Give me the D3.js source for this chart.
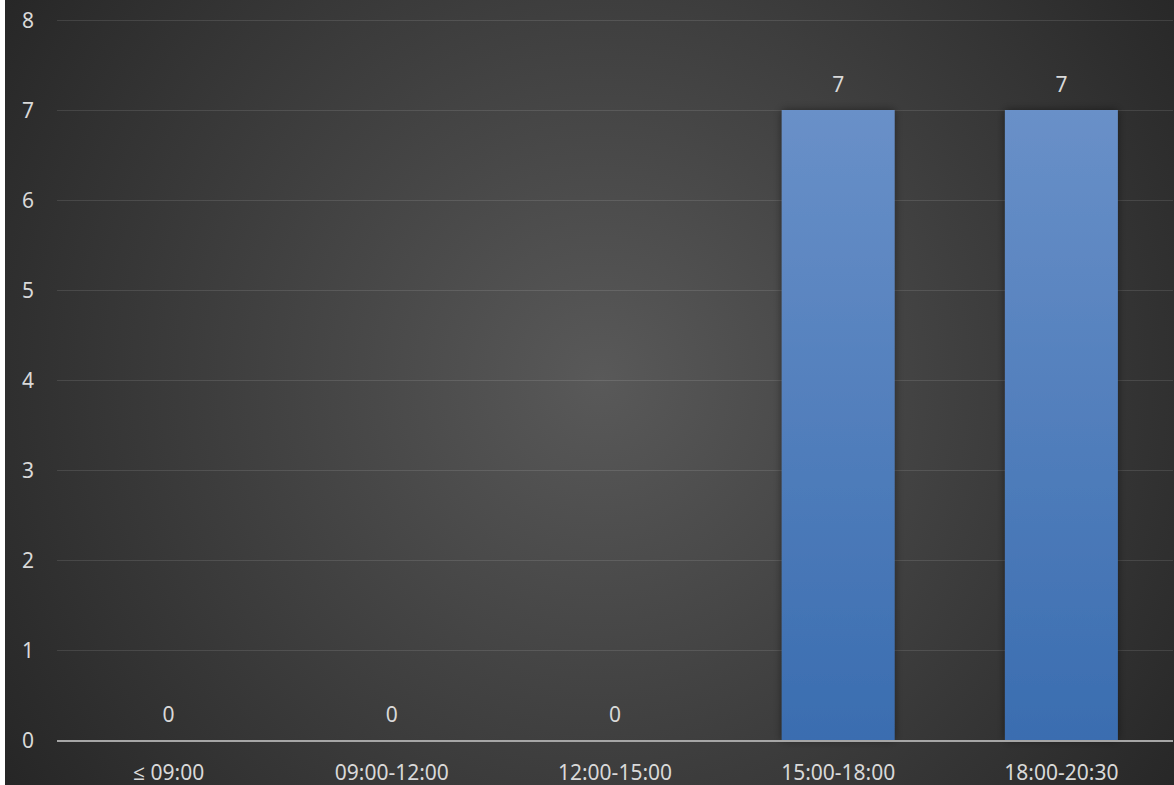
<!DOCTYPE html>
<html><head><meta charset="utf-8">
<script src="https://cdn.jsdelivr.net/npm/d3@7"></script>
<style>html,body{margin:0;padding:0;background:#fff;}svg{display:block;}</style>
</head><body>
<svg id="chart" width="1174" height="785"></svg>
<script>
const categories = ["≤ 09:00", "09:00-12:00", "12:00-15:00", "15:00-18:00", "18:00-20:30"];
const values = [0, 0, 0, 7, 7];
const yTicks = [0, 1, 2, 3, 4, 5, 6, 7, 8];

(function(){
const W = 1174, H = 785;
const svg = d3.select("#chart");
const defs = svg.append("defs");
const bg = defs.append("radialGradient").attr("id","bg").attr("gradientUnits","userSpaceOnUse")
  .attr("cx",600).attr("cy",380).attr("r",720);
bg.append("stop").attr("offset","0%").attr("stop-color","#595959");
bg.append("stop").attr("offset","100%").attr("stop-color","#262626");
const bar = defs.append("linearGradient").attr("id","bar").attr("x1",0).attr("y1",0).attr("x2",0).attr("y2",1);
bar.append("stop").attr("offset","0%").attr("stop-color","#6990c8");
bar.append("stop").attr("offset","100%").attr("stop-color","#3a6db0");
const f = defs.append("filter").attr("id","sh").attr("x","-20%").attr("y","-20%").attr("width","140%").attr("height","140%");
f.append("feDropShadow").attr("dx",0).attr("dy",0).attr("stdDeviation",4).attr("flood-color","#000").attr("flood-opacity",0.45);

svg.append("rect").attr("x",5).attr("y",0).attr("width",W-5).attr("height",H).attr("fill","url(#bg)");

const mLeft = 57, mRight = 1173, mTop = 20, mBottom = 740;
const x = d3.scaleBand().domain(categories).range([mLeft,mRight]).paddingInner(0.494).paddingOuter(0.247);
const y = d3.scaleLinear().domain([0,8]).range([mBottom,mTop]);

const font = "'Noto Sans', 'Open Sans', sans-serif";
const txt = "#d9d9d9";
const fs = "21px";

svg.append("g").selectAll("line").data(yTicks.filter(d=>d>0)).join("line")
  .attr("x1",mLeft).attr("x2",mRight).attr("y1",d=>y(d)+0.5).attr("y2",d=>y(d)+0.5)
  .attr("stroke","#ffffff").attr("stroke-opacity",0.11).attr("stroke-width",1);

const yAxis = d3.axisLeft(y).tickValues(yTicks).tickSize(0).tickPadding(0).tickFormat(d3.format("d"));
const ya = svg.append("g").attr("transform",`translate(34,0)`).call(yAxis);
ya.select(".domain").remove();
ya.selectAll("text").attr("fill",txt).style("font-family",font).style("font-size",fs).attr("text-anchor","middle").attr("x",-6).attr("dy","0.36em");

svg.append("g").selectAll("rect").data(values).join("rect")
  .attr("x",(d,i)=>x(categories[i])).attr("width",x.bandwidth())
  .attr("y",d=>y(d)).attr("height",d=>y(0)-y(d))
  .attr("fill","url(#bar)").attr("filter","url(#sh)");

svg.append("line").attr("x1",mLeft).attr("x2",mRight).attr("y1",y(0)+1).attr("y2",y(0)+1)
  .attr("stroke","#a6a6a6").attr("stroke-width",2);

const xAxis = d3.axisBottom(x).tickSize(0).tickPadding(0);
const xa = svg.append("g").attr("transform",`translate(0,${mBottom})`).call(xAxis);
xa.select(".domain").remove();
xa.selectAll("text").attr("fill",txt).style("font-family",font).style("font-size",fs).attr("dy",0).attr("y",40);

svg.append("g").selectAll("text").data(values).join("text")
  .attr("x",(d,i)=>x(categories[i])+x.bandwidth()/2).attr("y",d=>y(d)-18)
  .attr("text-anchor","middle").attr("fill",txt).style("font-family",font).style("font-size",fs)
  .text(d=>d);
})();
</script>
</body></html>
